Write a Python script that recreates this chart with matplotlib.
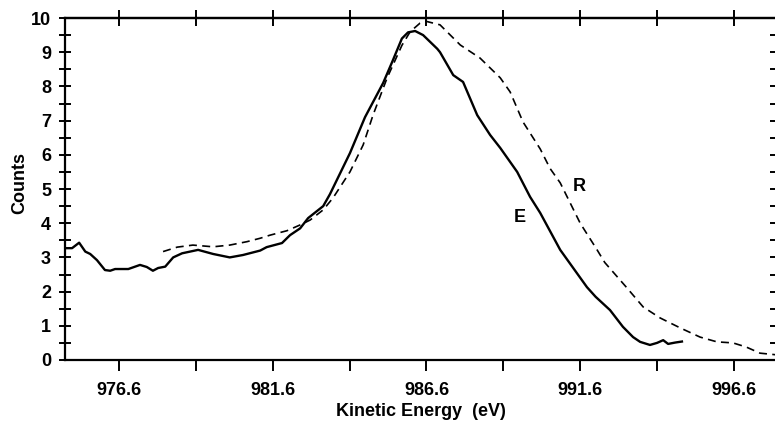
import matplotlib
matplotlib.use("Agg")
import matplotlib.pyplot as plt
from matplotlib.ticker import MultipleLocator, FixedLocator

plt.rcParams['font.family'] = ['Liberation Sans', 'DejaVu Sans']
plt.rcParams['font.weight'] = 'bold'
plt.rcParams['axes.labelweight'] = 'bold'

# E curve (solid)
e_x = [974.85, 975.07, 975.30, 975.50, 975.66, 975.88, 976.14, 976.31, 976.47, 976.90,
       977.28, 977.50, 977.70, 977.87, 978.10, 978.36, 978.65, 979.17, 979.66, 980.20,
       980.63, 981.19, 981.40, 981.90, 982.16, 982.49, 982.75, 983.24, 983.46, 984.11,
       984.60, 985.19, 985.50, 985.80, 986.00, 986.23, 986.49, 986.95, 987.04, 987.47,
       987.79, 988.25, 988.67, 989.00, 989.55, 989.97, 990.30, 990.95, 991.82, 992.10,
       992.57, 992.99, 993.32, 993.55, 993.87, 994.10, 994.30, 994.46, 994.69, 994.91]
e_y = [3.27, 3.27, 3.43, 3.17, 3.10, 2.92, 2.63, 2.61, 2.66, 2.66,
       2.78, 2.72, 2.61, 2.69, 2.73, 3.00, 3.12, 3.22, 3.10, 3.00,
       3.07, 3.20, 3.30, 3.42, 3.65, 3.85, 4.15, 4.50, 4.85, 6.05,
       7.10, 8.10, 8.75, 9.40, 9.58, 9.62, 9.50, 9.10, 9.00, 8.33,
       8.13, 7.16, 6.58, 6.20, 5.50, 4.77, 4.30, 3.22, 2.13, 1.85,
       1.46, 0.97, 0.67, 0.53, 0.44, 0.50, 0.58, 0.47, 0.51, 0.54]

# R curve (dashed)
r_x = [978.03, 978.49, 979.00, 979.66, 980.20, 980.76, 981.19, 981.51, 982.06, 982.49,
       982.81, 983.24, 983.56, 984.11, 984.54, 984.86, 985.32, 985.80, 986.07, 986.39,
       986.60, 987.04, 987.70, 988.34, 989.00, 989.32, 989.74, 990.30, 990.62, 990.95,
       991.27, 991.60, 992.15, 992.40, 993.10, 993.65, 994.20, 994.85, 995.50, 996.05,
       996.57, 997.00, 997.45, 997.78, 998.00]
r_y = [3.17, 3.30, 3.36, 3.31, 3.36, 3.46, 3.56, 3.65, 3.78, 3.95,
       4.09, 4.39, 4.74, 5.50, 6.29, 7.16, 8.25, 9.20, 9.60, 9.85,
       9.90, 9.80, 9.21, 8.83, 8.25, 7.84, 6.96, 6.17, 5.60, 5.18,
       4.60, 4.00, 3.22, 2.85, 2.13, 1.55, 1.23, 0.94, 0.67, 0.53,
       0.50, 0.38, 0.20, 0.17, 0.15]

x_ticks = [976.6, 981.6, 986.6, 991.6, 996.6]
x_minor = [974.1, 979.1, 984.1, 989.1, 994.1, 999.1]

fig = plt.figure(figsize=(7.75, 4.32), dpi=100)
ax = fig.add_axes([65 / 775, 72 / 432, 711 / 775, 342 / 432])

ax.plot(e_x, e_y, color='black', lw=1.7, solid_joinstyle='round')
ax.plot(r_x, r_y, color='black', lw=1.2, dashes=(4.8, 3.2))

ax.text(989.64, 4.18, 'E', fontsize=13, ha='center', va='center')
ax.text(991.57, 5.06, 'R', fontsize=13, ha='center', va='center')

ax.set_xlim(974.84, 997.97)
ax.set_ylim(0, 10)

for s in ax.spines.values():
    s.set_linewidth(1.6)
ax.spines['right'].set_visible(False)

ax.xaxis.set_major_locator(FixedLocator(x_ticks))
ax.xaxis.set_minor_locator(FixedLocator(x_minor))
ax.set_xticklabels([f'{v:.1f}' for v in x_ticks])
ax.yaxis.set_major_locator(MultipleLocator(1))
ax.yaxis.set_minor_locator(MultipleLocator(0.5))

ax.tick_params(axis='x', which='both', direction='out', length=8, width=1.4,
               labelsize=13, pad=8)
ax.tick_params(axis='y', which='both', direction='inout', length=8, width=1.4,
               right=True, labelright=False, labelsize=13, pad=6)

# top ticks cross the frame
top = ax.secondary_xaxis('top')
top.xaxis.set_major_locator(FixedLocator(x_ticks))
top.xaxis.set_minor_locator(FixedLocator(x_minor))
top.tick_params(which='both', direction='inout', length=12, width=1.4, labeltop=False)
top.spines['top'].set_linewidth(1.6)

ax.set_xlabel('Kinetic Energy  (eV)', fontsize=13, labelpad=3)
ax.set_ylabel('Counts', fontsize=13)
ax.yaxis.set_label_coords(-0.052, 0.517)

fig.savefig('out.png', dpi=100)
